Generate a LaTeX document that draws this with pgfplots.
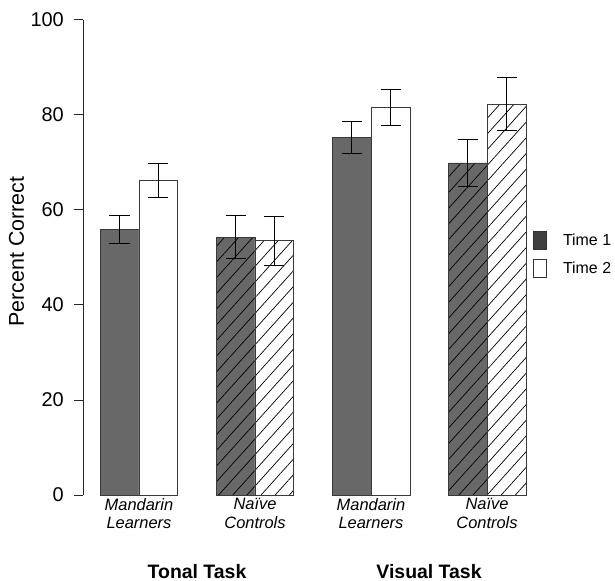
\documentclass[border=0pt]{standalone}
\usepackage{fontspec}
\setmainfont{Liberation Sans}
\usepackage{pgfplots}
\pgfplotsset{compat=1.18}
\usetikzlibrary{patterns.meta}
\definecolor{bardark}{HTML}{686868}
\definecolor{legdark}{HTML}{404040}
\definecolor{edge}{HTML}{3A3A3A}
\begin{document}
\begin{tikzpicture}
\begin{axis}[
  x=1bp, y=4.75bp,
  xmin=83, xmax=615, ymin=0, ymax=100,
  axis x line=none, axis y line*=left,
  y axis line style={line width=0.9bp, black!85},
  ytick={0,20,40,60,80,100},
  tick align=outside, major tick length=9bp,
  every tick/.style={line width=0.9bp, black!85},
  /pgf/number format/assume math mode=true,
  yticklabel style={font=\fontsize{20}{22}\selectfont, anchor=east, inner sep=0pt, xshift=-10bp},
  every axis y label/.style={at={(axis cs:16.5,51.2)}, rotate=90, anchor=center, font=\fontsize{21.5}{24}\selectfont},
  ylabel={Percent Correct},
  clip=false,
  legend image code/.code={\draw[#1] (0bp,-9bp) rectangle (13bp,9bp);},
  legend style={at={(axis cs:533,55.6)}, anchor=north west, draw=none, fill=none, inner sep=0pt,
    font=\fontsize{16}{18}\selectfont, row sep=9bp,
    nodes={inner sep=0pt, anchor=west}},
  legend cell align=left,
  error bars/y dir=both, error bars/y explicit,
  error bars/error bar style={line width=0.8bp, black},
  error bars/error mark options={rotate=90, line width=0.8bp, black, mark size=10bp},
]
\path (axis cs:0,104.2) rectangle (axis cs:615,-18.1);
% Time 1, solid (Mandarin learners)
\addplot[ybar, bar shift=0pt, bar width=38.8, fill=bardark, draw=edge, line width=0.8bp, forget plot]
  coordinates {(119.5,55.9) +- (0,3.0) (351.8,75.2) +- (0,3.4)};
% Time 2, solid
\addplot[ybar, bar shift=0pt, bar width=38.8, fill=white, draw=edge, line width=0.8bp, forget plot]
  coordinates {(158.3,66.2) +- (0,3.5) (390.7,81.5) +- (0,3.8)};
% Time 1, hatched (Naive controls)
\addplot[ybar, bar shift=0pt, bar width=38.8, fill=bardark, draw=edge, line width=0.8bp, forget plot,
  postaction={pattern={Lines[angle=48,distance=10.5bp,line width=0.7bp]}, pattern color=black}]
  coordinates {(235.8,54.3) +- (0,4.5) (467.7,69.9) +- (0,5.0)};
% Time 2, hatched
\addplot[ybar, bar shift=0pt, bar width=38.8, fill=white, draw=edge, line width=0.8bp, forget plot,
  postaction={pattern={Lines[angle=48,distance=10.5bp,line width=0.7bp]}, pattern color=black}]
  coordinates {(274.3,53.5) +- (0,5.2) (506.5,82.3) +- (0,5.6)};
\addlegendimage{fill=legdark, draw=black!80, line width=0.8bp}
\addlegendentry{\hspace{16bp}Time 1}
\addlegendimage{fill=white, draw=black!80, line width=0.8bp}
\addlegendentry{\hspace{16bp}Time 2}
\node[anchor=north, align=center, inner sep=0pt, font=\fontsize{16.5}{18.3}\selectfont\itshape] at (axis cs:139,-0.74) {Mandarin\\Learners};
\node[anchor=north, align=center, inner sep=0pt, font=\fontsize{16.5}{18.3}\selectfont\itshape] at (axis cs:255,-0.74) {Naïve\\Controls};
\node[anchor=north, align=center, inner sep=0pt, font=\fontsize{16.5}{18.3}\selectfont\itshape] at (axis cs:371,-0.74) {Mandarin\\Learners};
\node[anchor=north, align=center, inner sep=0pt, font=\fontsize{16.5}{18.3}\selectfont\itshape] at (axis cs:487,-0.74) {Naïve\\Controls};
\node[anchor=base, inner sep=0pt, font=\fontsize{19.5}{22}\selectfont\bfseries] at (axis cs:197,-17.54) {Tonal Task};
\node[anchor=base, inner sep=0pt, font=\fontsize{19.5}{22}\selectfont\bfseries] at (axis cs:429,-17.54) {Visual Task};
\end{axis}
\end{tikzpicture}
\end{document}
